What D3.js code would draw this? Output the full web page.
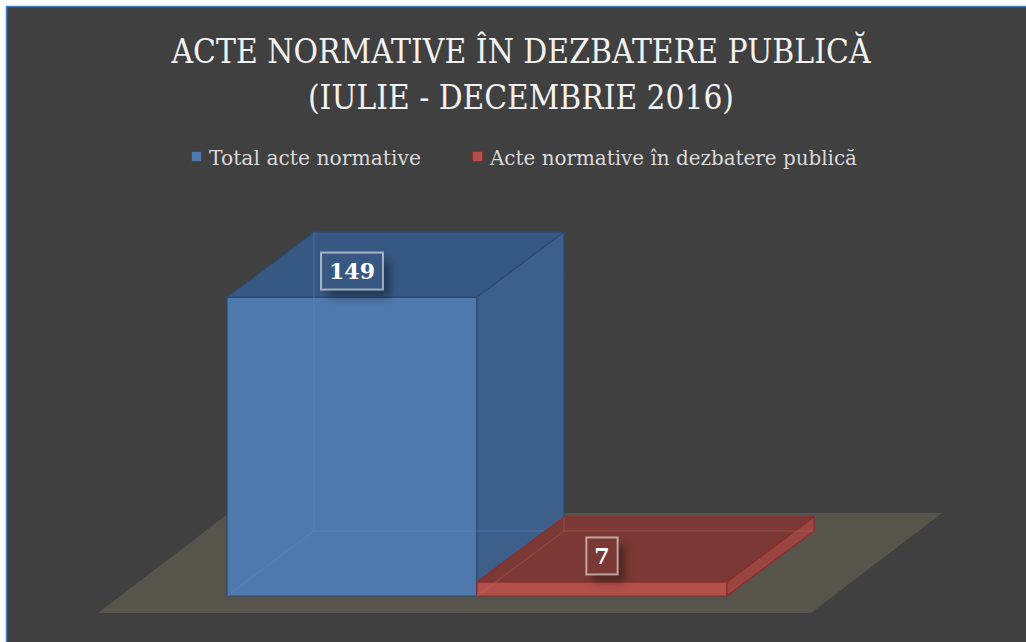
<!DOCTYPE html>
<html>
<head>
<meta charset="utf-8">
<script src="https://cdn.jsdelivr.net/npm/d3@7/dist/d3.min.js"></script>
<style>
    body { margin: 0; background: #ffffff; }
    svg { display: block; }
</style>
</head>
<body>
<svg id="canvas" width="1026" height="642"></svg>
<script>
(function () {

    // Data.
    const TITLE_LINES = ["ACTE NORMATIVE ÎN DEZBATERE PUBLICĂ", "(IULIE - DECEMBRIE 2016)"];
    const SERIES = ["Total acte normative", "Acte normative în dezbatere publică"];
    const VALUES = [149, 7];

    // Styles.
    const COLORS = [
        { front: "#4f79ad", top: "#375882", side: "#3e5f8a", edge: "#2c4a72", hidden: "#5b8bc8" },
        { front: "#b4504b", top: "#7a3935", side: "#9a4541", edge: "#8a2e2a", hidden: "#c0605a" }
    ];
    const DEPTH = { dx: 87, dy: -65 };
    const FONT = "'DejaVu Serif', 'Liberation Serif', serif";

    let svg = d3.select("#canvas");

    // Chart background with the thin blue frame.
    svg.append("rect")
        .attr("x", 6.5).attr("y", 6.5)
        .attr("width", 1040).attr("height", 660)
        .attr("fill", "#404040")
        .attr("stroke", "#4a7cc0")
        .attr("stroke-width", 1.5);

    let defs = svg.append("defs");
    defs.append("filter")
        .attr("id", "blur")
        .attr("x", "-50%").attr("y", "-50%")
        .attr("width", "200%").attr("height", "200%")
        .append("feGaussianBlur")
        .attr("stdDeviation", 4);

    // Scales.
    let xScale = d3.scaleBand().domain(SERIES).range([227, 727]).padding(0);
    let yScale = d3.scaleLinear().domain([0, 160]).range([596, 275]);
    let bw = xScale.bandwidth();
    let y0 = yScale(0);

    // Floor.
    let floor = [[98, 613], [811, 613], [942, 513], [229, 513]];
    svg.append("polygon")
        .attr("points", floor.map(p => p.join(",")).join(" "))
        .attr("fill", "#57544c");

    // Bars (3D boxes).
    let bars = svg.append("g").attr("class", "bars");
    SERIES.forEach(function (s, i) {
        let x = xScale(s);
        let y = yScale(VALUES[i]);
        let c = COLORS[i];
        let g = bars.append("g");
        let pts = arr => arr.map(p => p.join(",")).join(" ");

        // front
        g.append("polygon")
            .attr("points", pts([[x, y], [x + bw, y], [x + bw, y0], [x, y0]]))
            .attr("fill", c.front)
            .attr("stroke", c.edge).attr("stroke-width", 1.2);
        // top
        g.append("polygon")
            .attr("points", pts([[x, y], [x + bw, y], [x + bw + DEPTH.dx, y + DEPTH.dy], [x + DEPTH.dx, y + DEPTH.dy]]))
            .attr("fill", c.top)
            .attr("stroke", c.edge).attr("stroke-width", 1.2)
            .attr("stroke-linejoin", "round");
        // side
        g.append("polygon")
            .attr("points", pts([[x + bw, y], [x + bw + DEPTH.dx, y + DEPTH.dy], [x + bw + DEPTH.dx, y0 + DEPTH.dy], [x + bw, y0]]))
            .attr("fill", c.side)
            .attr("stroke", c.edge).attr("stroke-width", 1.2)
            .attr("stroke-linejoin", "round");

        // hidden back edges seen through the translucent box
        let hidden = [
            [[x, y0], [x + DEPTH.dx, y0 + DEPTH.dy]],
            [[x + DEPTH.dx, y0 + DEPTH.dy], [x + bw + DEPTH.dx, y0 + DEPTH.dy]],
            [[x + DEPTH.dx, y0 + DEPTH.dy], [x + DEPTH.dx, y + DEPTH.dy]]
        ];
        hidden.forEach(function (h) {
            g.append("line")
                .attr("x1", h[0][0]).attr("y1", h[0][1])
                .attr("x2", h[1][0]).attr("y2", h[1][1])
                .attr("stroke", c.hidden)
                .attr("stroke-opacity", 0.35)
                .attr("stroke-width", 1.5);
        });
    });

    // Data labels.
    let labels = svg.append("g").attr("class", "labels");
    SERIES.forEach(function (s, i) {
        let cx = xScale(s) + bw / 2;
        let cy = yScale(VALUES[i]) - 26;
        let g = labels.append("g");
        let shadow = g.append("rect");
        let box = g.append("rect");
        let t = g.append("text")
            .attr("x", cx).attr("y", cy + 8)
            .attr("text-anchor", "middle")
            .attr("font-family", FONT)
            .attr("font-weight", "bold")
            .attr("font-size", 22)
            .attr("fill", "#ffffff")
            .text(VALUES[i]);
        let w = t.node().getComputedTextLength() + 16;
        let h = 37;
        shadow
            .attr("x", cx - w / 2 + 7).attr("y", cy - h / 2 + 8)
            .attr("width", w).attr("height", h)
            .attr("fill", "#000000").attr("opacity", 0.35)
            .attr("filter", "url(#blur)");
        box
            .attr("x", cx - w / 2).attr("y", cy - h / 2)
            .attr("width", w).attr("height", h)
            .attr("fill", COLORS[i].top)
            .attr("stroke", "#ffffff").attr("stroke-opacity", 0.55)
            .attr("stroke-width", 2);
    });

    // Title.
    let title = svg.append("g").attr("class", "title");
    let titleWidths = [699, 426];
    TITLE_LINES.forEach(function (line, i) {
        title.append("text")
            .attr("x", 521).attr("y", 63 + i * 46)
            .attr("text-anchor", "middle")
            .attr("font-family", FONT)
            .attr("font-size", 34)
            .attr("fill", "#f2f2f2")
            .attr("textLength", titleWidths[i])
            .attr("lengthAdjust", "spacingAndGlyphs")
            .text(line);
    });

    // Legend.
    let legend = svg.append("g").attr("class", "legend");
    let legendX = [191, 472];
    let legendWidths = [212, 367];
    SERIES.forEach(function (s, i) {
        legend.append("rect")
            .attr("x", legendX[i] + 0.5).attr("y", 151.5)
            .attr("width", 10).attr("height", 10)
            .attr("fill", COLORS[i].front)
            .attr("stroke", COLORS[i].edge);
        legend.append("text")
            .attr("x", legendX[i] + 18).attr("y", 165)
            .attr("font-family", FONT)
            .attr("font-size", 21)
            .attr("fill", "#d9d9d9")
            .attr("textLength", legendWidths[i])
            .attr("lengthAdjust", "spacingAndGlyphs")
            .text(s);
    });

})();
</script>
</body>
</html>
